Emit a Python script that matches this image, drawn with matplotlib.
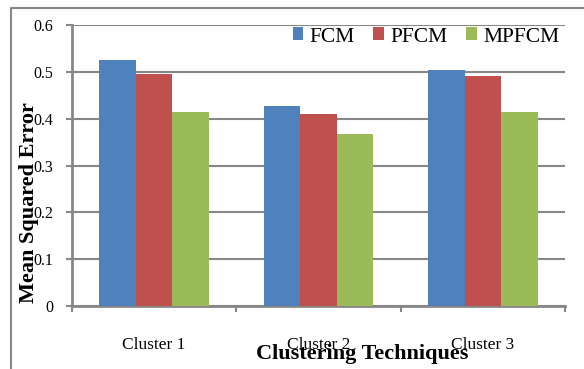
import matplotlib
matplotlib.use("Agg")
import matplotlib.pyplot as plt
from matplotlib.lines import Line2D
import numpy as np

# Mean squared error per cluster for each clustering method
clusters = ["Cluster 1", "Cluster 2", "Cluster 3"]
fcm = [0.525, 0.427, 0.504]
pfcm = [0.495, 0.410, 0.491]
mpfcm = [0.415, 0.367, 0.415]
metodos = ["FCM", "PFCM", "MPFCM"]
colores = ["#4f81bd", "#c0504d", "#9bbb59"]

plt.rcParams['font.family'] = ['Liberation Serif', 'DejaVu Serif']
gris = "#878787"

fig = plt.figure(figsize=(5.84, 3.69), dpi=100)
ax = fig.add_axes([72/584, 1-306/369, (565-72)/584, (306-25)/369])

x = np.arange(len(clusters))
ancho = 0.222
for i, (serie, color, nombre) in enumerate(zip([fcm, pfcm, mpfcm], colores, metodos)):
    ax.bar(x + (i-1)*ancho, serie, width=ancho, color=color, label=nombre, zorder=3)

ax.set_xlim(-0.5, 2.5)
ax.set_ylim(0, 0.6)
ax.set_yticks([0, 0.1, 0.2, 0.3, 0.4, 0.5, 0.6])
ax.set_yticklabels(["0", "0.1", "0.2", "0.3", "0.4", "0.5", "0.6"])
ax.yaxis.grid(True, color=gris, linewidth=1.5, zorder=0)
ax.set_axisbelow(True)

# etiquetas de categoria sin marcas; marcas en los limites de cada grupo
ax.set_xticks(x)
ax.set_xticklabels(clusters)
ax.tick_params(axis='x', length=0, pad=22, labelsize=12.5)
ax.set_xticks([-0.5, 0.5, 1.5, 2.5], minor=True)
ax.tick_params(axis='x', which='minor', length=4.3, width=1.5, color=gris, direction='out')
ax.tick_params(axis='y', length=4.3, width=1.5, color=gris, labelsize=11.5, pad=9)

for lado in ['top', 'right']:
    ax.spines[lado].set_visible(False)
for lado in ['left', 'bottom']:
    ax.spines[lado].set_color(gris)
    ax.spines[lado].set_linewidth(2)

fig.text(29/584, 1-203/369, "Mean Squared Error", rotation=90, fontsize=16,
         fontweight='bold', ha='center', va='center')
fig.text(362/584, 1-354/369, "Clustering Techniques", fontsize=16,
         fontweight='bold', ha='center', va='center')

fig.legend(loc='center', bbox_to_anchor=(426/584, 1-37/369), ncol=3, frameon=False,
           fontsize=15.5, handlelength=0.5, handleheight=0.55, handletextpad=0.3,
           columnspacing=0.85, borderaxespad=0)

# marco exterior del grafico
fig.add_artist(Line2D([11/584, 11/584, 1], [0, 1-8/369, 1-8/369],
                      transform=fig.transFigure, color=gris, linewidth=1.5))

fig.savefig("out.png", dpi=100)
